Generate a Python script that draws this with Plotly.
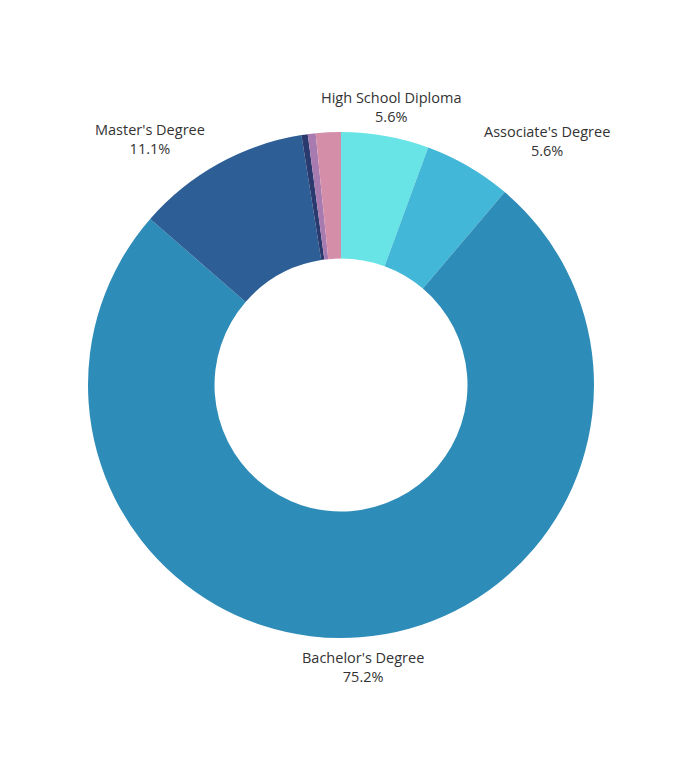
import plotly.graph_objects as go

labels = ["High School Diploma", "Associate's Degree", "Bachelor's Degree", "Master's Degree",
          "Doctoral Degree", "Professional Degree", "Other"]
values = [5.6, 5.6, 75.2, 11.1, 0.4, 0.5, 1.6]
show_label = [True, True, True, True, False, False, False]
colors = ["#68E4E6", "#43B7D7", "#2E8CB8", "#2D5F96", "#2A3A6E", "#A77BB0", "#D48EA8"]

# label anchor points (paper coords) for the labelled slices
label_pos = {
    "High School Diploma": (0.599, 1.049),
    "Associate's Degree": (0.907, 0.982),
    "Master's Degree": (0.1225, 0.986),
    "Bachelor's Degree": (0.5435, -0.0573),
}

fig = go.Figure(go.Pie(
    labels=labels, values=values, textinfo="none",
    hole=0.5, sort=False, direction="clockwise", rotation=0,
    marker=dict(colors=colors, line=dict(color="white", width=0)),
    showlegend=False,
))

for l, v, s in zip(labels, values, show_label):
    if not s:
        continue
    x, y = label_pos[l]
    fig.add_annotation(
        x=x, y=y, xref="paper", yref="paper", showarrow=False,
        text=f"{l}<br>{v:.1f}%", align="center", xanchor="center", yanchor="middle",
        font=dict(family="Open Sans", size=14.5, color="#333333"),
    )

fig.update_layout(
    width=700, height=773,
    margin=dict(l=88, r=106, t=132, b=135),
    paper_bgcolor="white", plot_bgcolor="white",
)
fig.write_html("out.html")
